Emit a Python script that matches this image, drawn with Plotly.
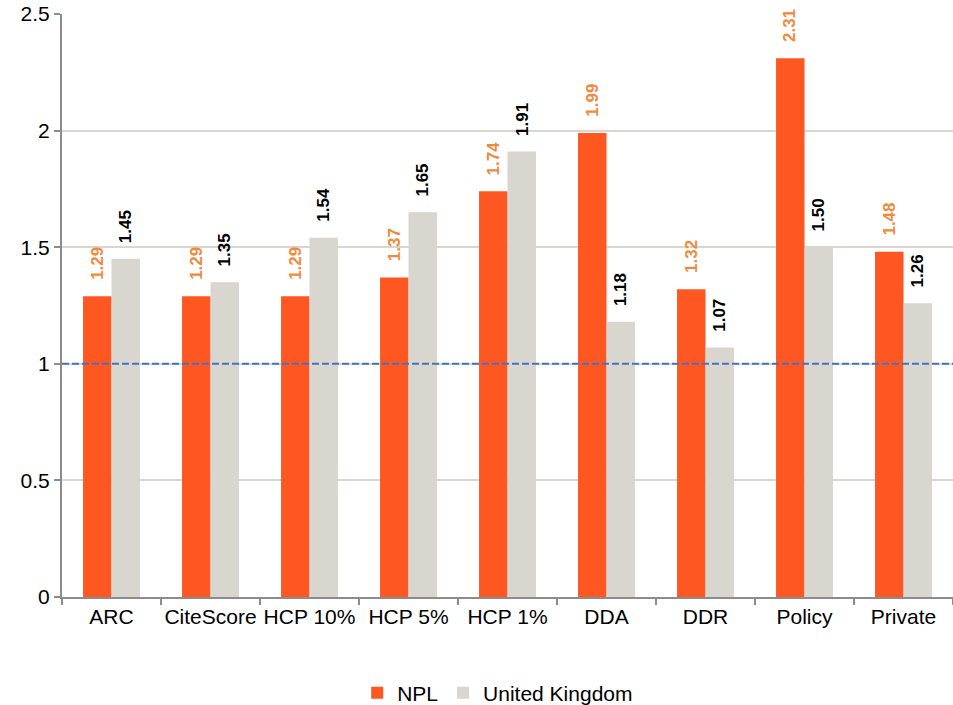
import plotly.graph_objects as go

categories = ["ARC", "CiteScore", "HCP 10%", "HCP 5%", "HCP 1%", "DDA", "DDR", "Policy", "Private"]
npl = [1.29, 1.29, 1.29, 1.37, 1.74, 1.99, 1.32, 2.31, 1.48]
uk = [1.45, 1.35, 1.54, 1.65, 1.91, 1.18, 1.07, 1.50, 1.26]
series_names = ["NPL", "United Kingdom"]
y_ticks = [0, 0.5, 1, 1.5, 2, 2.5]
y_tick_text = ["0", "0.5", "1", "1.5", "2", "2.5"]

ORANGE = "#FF5722"
GREY = "#D9D5CF"
ORANGE_TXT = "#F08A3C"
FONT = "Liberation Sans, Arial"

fig = go.Figure()
fig.add_trace(go.Bar(x=categories, y=npl, name=series_names[0], marker_color=ORANGE,
                     marker_line_width=0))
fig.add_trace(go.Bar(x=categories, y=uk, name=series_names[1], marker_color=GREY,
                     marker_line_width=0))

annotations = []
for c, v in zip(categories, npl):
    annotations.append(dict(x=c, y=v, xref="x", yref="y", text=f"<b>{v:.2f}</b>",
                            textangle=-90, showarrow=False, xanchor="center", yanchor="bottom",
                            xshift=-14.3, yshift=14,
                            font=dict(family=FONT, size=17, color=ORANGE_TXT)))
for c, v in zip(categories, uk):
    annotations.append(dict(x=c, y=v, xref="x", yref="y", text=f"<b>{v:.2f}</b>",
                            textangle=-90, showarrow=False, xanchor="center", yanchor="bottom",
                            xshift=14.3, yshift=14,
                            font=dict(family=FONT, size=17, color="#000000")))

fig.add_shape(type="line", xref="paper", yref="y", x0=0, x1=1, y0=1, y1=1,
              line=dict(color="#4472C4", width=2, dash="7px,3px"))

fig.update_layout(
    width=953, height=705,
    margin=dict(l=62, r=0, t=14, b=108),
    paper_bgcolor="white", plot_bgcolor="white",
    barmode="group", bargap=0.425, bargroupgap=0,
    font=dict(family=FONT, size=21, color="#000000"),
    annotations=annotations,
    showlegend=True,
    legend=dict(orientation="h", x=0.489, xanchor="center",
                yref="container", y=0.017, yanchor="middle",
                font=dict(family=FONT, size=21), itemwidth=30, traceorder="normal"),
    xaxis=dict(showline=True, linecolor="#8C8C8C", linewidth=2, ticks="outside",
               tickson="boundaries", ticklen=6, tickcolor="#8C8C8C", tickwidth=2,
               showgrid=False, tickangle=0, tickfont=dict(family=FONT, size=21),
               automargin=False, ticklabeloverflow="allow"),
    yaxis=dict(range=[0, 2.5], tickvals=y_ticks, ticktext=y_tick_text,
               showline=True, linecolor="#8C8C8C", linewidth=2, ticks="outside",
               ticklen=6, tickcolor="#8C8C8C", tickwidth=2,
               showgrid=True, gridcolor="#D9D5CF", gridwidth=2, zeroline=False,
               tickfont=dict(family=FONT, size=21), automargin=False,
               ticklabeloverflow="allow"),
)

# remove the default 8px page margin so the figure fills the window exactly
fig.write_html("out.html",
               config={"displayModeBar": False},
               post_script="document.body.style.margin='0';document.body.style.overflow='hidden';")
